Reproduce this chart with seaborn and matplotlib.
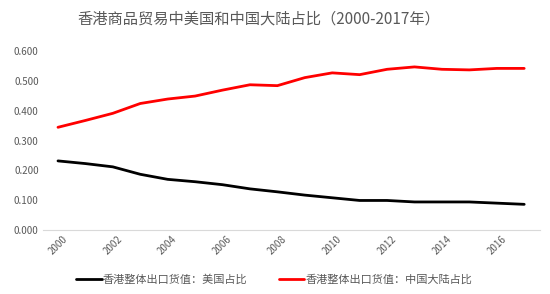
import pandas as pd
import matplotlib.pyplot as plt
import seaborn as sns

sns.set_style("white")
plt.rcParams['font.family'] = ['Noto Sans CJK SC', 'DejaVu Sans']

# 香港整体出口货值占比, 2000-2017
years = list(range(2000, 2018))
us_share = [0.232, 0.223, 0.212, 0.187, 0.170, 0.162, 0.152, 0.138, 0.128,
            0.117, 0.108, 0.099, 0.099, 0.094, 0.094, 0.094, 0.090, 0.086]
cn_share = [0.345, 0.368, 0.392, 0.425, 0.440, 0.450, 0.470, 0.488, 0.485,
            0.512, 0.528, 0.522, 0.540, 0.548, 0.540, 0.538, 0.543, 0.543]
us_label = '香港整体出口货值：美国占比'
cn_label = '香港整体出口货值：中国大陆占比'

df = pd.DataFrame({'year': years, us_label: us_share, cn_label: cn_share})
long = df.melt(id_vars='year', var_name='series', value_name='share')

fig, ax = plt.subplots(figsize=(5.5, 2.94), dpi=100)
sns.lineplot(data=long, x='year', y='share', hue='series',
             palette={us_label: 'black', cn_label: '#ff0000'},
             linewidth=2, ax=ax)

ax.set_xlim(1999.45, 2017.58)
ax.set_ylim(0, 0.6)
ax.set_yticks([0, 0.1, 0.2, 0.3, 0.4, 0.5, 0.6])
ax.set_yticklabels([f'{v:.3f}' for v in ax.get_yticks()])
ax.set_xticks(years[::2])
ax.set_xticklabels([str(y) for y in years[::2]], rotation=45)
ax.tick_params(axis='both', labelsize=7, colors='#595959', length=0, pad=3)
ax.set_xlabel('')
ax.set_ylabel('')
for s in ['top', 'right', 'left']:
    ax.spines[s].set_visible(False)
ax.spines['bottom'].set_color('#d9d9d9')

fig.text(0.47, 0.935, '香港商品贸易中美国和中国大陆占比（2000-2017年）',
         fontsize=11, color='#595959', ha='center', va='center')
ax.legend(loc='upper center', bbox_to_anchor=(0.465, -0.19), ncol=2,
          frameon=False, fontsize=8, handlelength=2.3, handletextpad=0.1,
          columnspacing=2.8)
for t in ax.get_legend().get_texts():
    t.set_color('#595959')

plt.subplots_adjust(left=0.078, right=0.982, top=0.825, bottom=0.218)
plt.savefig('out.png', dpi=100)
